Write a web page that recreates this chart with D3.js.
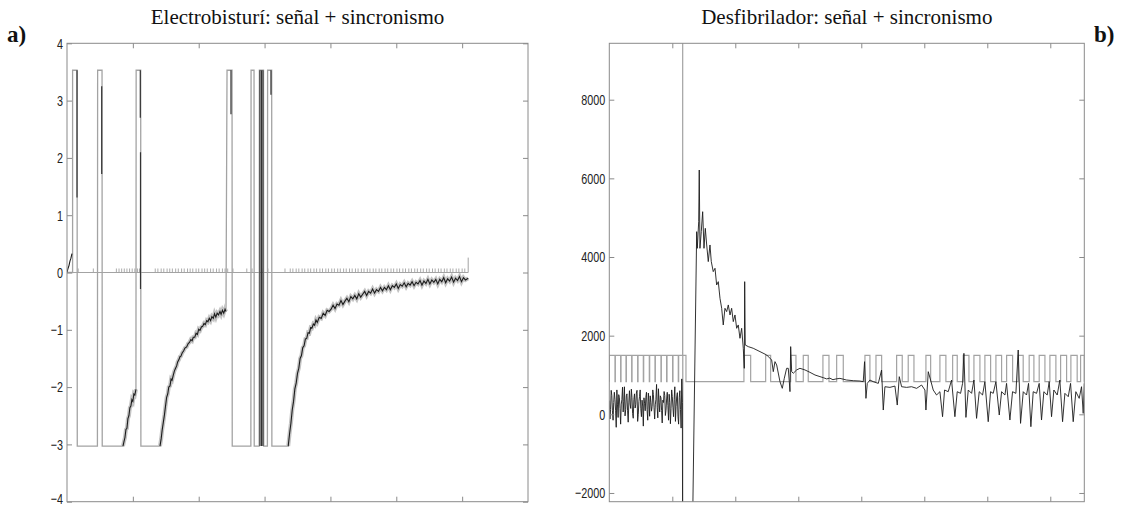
<!DOCTYPE html>
<html>
<head>
<meta charset="utf-8">
<script src="https://cdn.jsdelivr.net/npm/d3@7"></script>
<style>
  body { margin: 0; background: #fff; }
</style>
</head>
<body>
<div id="chart"></div>
<script>
// ---------------------------//
//       DATA                 //
// ---------------------------//

// panel a) Electrobisturi
var titleA = "Electrobisturí: señal + sincronismo";
var xDomA = [0, 700];
var yDomA = [-4, 4];
var xTicksA = [100, 200, 300, 400, 500, 600];
var yTicksA = [-4, -3, -2, -1, 0, 1, 2, 3, 4];

// sync: baseline at 0 with short pulses
var syncEndA = 609.2;
var syncPulseA = 0.07;
var syncLastA = 0.26;
var syncTicksA = [17, 40, 75, 79, 83, 87, 91, 95, 99, 103, 107, 110,
  134, 138, 143, 147, 152, 156, 160, 165, 169, 174, 178, 183, 187, 191, 196, 200,
  205, 209, 213, 218, 222, 227, 231, 236, 240, 244,
  252, 273, 281, 298, 305, 331,
  339, 343, 348, 352, 357, 361, 366, 370, 375, 379, 384, 388, 393, 397, 402, 406,
  411, 415, 420, 424, 429, 433, 438, 442, 447, 451, 456, 460, 465, 469, 474, 478,
  483, 487, 492, 496, 501, 505, 510, 514, 519, 523, 528, 532, 537, 541, 546, 550,
  555, 559, 564, 568, 573, 577, 582, 586, 591, 595, 600, 604];

// recovery curves of the signal after saturation
var curve1A = [[85,-3.03],[86.5,-2.95],[88,-2.88],[89.5,-2.74],[91,-2.72],[92.5,-2.55],[94,-2.5],
  [95.5,-2.36],[97,-2.33],[98.5,-2.22],[100,-2.25],[101.5,-2.12],[103,-2.14],[104.7,-2.04]];
var curve2A = [[141.2,-3.03],[143,-2.9],[144.5,-2.75],[146.2,-2.62],[148,-2.48],[149.5,-2.34],[151.3,-2.18],
  [153,-2.12],[154.5,-2.0],[156.4,-1.98],[158,-1.86],[159.5,-1.88],[161.4,-1.79],[163,-1.72],[164.5,-1.68],
  [166.5,-1.63],[168,-1.56],[170,-1.52],[171.5,-1.47],[173,-1.46],[175,-1.40],[177,-1.37],[179,-1.32],
  [181.7,-1.30],[184,-1.24],[186,-1.22],[188,-1.17],[190,-1.19],[191.7,-1.13],[194,-1.13],[196,-1.06],
  [198,-1.08],[200,-0.99],[202,-1.01],[204,-0.95],[206,-0.94],[208,-0.89],[210,-0.91],[212.1,-0.84],
  [214,-0.86],[216,-0.80],[218,-0.84],[220,-0.77],[222.1,-0.80],[224,-0.72],[226,-0.78],[228,-0.71],
  [230,-0.74],[232.3,-0.68],[234,-0.73],[236,-0.66],[238,-0.71],[240,-0.64],[241.4,-0.68]];
var curve3A = [[335.9,-3.03],[338,-2.81],[340,-2.63],[342,-2.40],[344,-2.25],[346,-2.03],[348,-1.93],
  [350,-1.76],[352,-1.67],[354,-1.50],[356,-1.45],[358,-1.31],[360,-1.28],[362,-1.16],[364,-1.15],
  [366,-1.05],[368,-1.06],[370,-0.96],[372,-0.97],[374,-0.90],[376,-0.92],[378,-0.83],[380,-0.87],
  [383,-0.78],[386,-0.80],[389,-0.71],[392,-0.75],[395,-0.66],[398,-0.68],[401,-0.64],[404,-0.57],
  [407,-0.63],[410,-0.55],[413,-0.57],[416,-0.49],[419,-0.56],[422,-0.50],[425,-0.45],[428,-0.51],
  [431,-0.42],[434,-0.46],[437,-0.40],[440,-0.46],[443,-0.37],[446,-0.43],[449,-0.38],[452,-0.33],
  [455,-0.40],[458,-0.33],[461,-0.36],[464,-0.29],[467,-0.36],[470,-0.30],[473,-0.33],[476,-0.26],
  [479,-0.32],[482,-0.26],[485,-0.30],[488,-0.23],[491,-0.30],[494,-0.23],[497,-0.26],[500,-0.20],
  [503,-0.28],[506,-0.21],[509,-0.24],[512,-0.18],[515,-0.25],[518,-0.19],[521,-0.22],[524,-0.16],
  [527,-0.23],[530,-0.17],[533,-0.20],[536,-0.14],[539,-0.22],[542,-0.15],[545,-0.19],[548,-0.12],
  [551,-0.20],[554,-0.13],[557,-0.17],[560,-0.12],[563,-0.20],[566,-0.12],[569,-0.16],[572,-0.09],
  [575,-0.18],[578,-0.11],[581,-0.15],[584,-0.08],[587,-0.17],[590,-0.10],[593,-0.14],[596,-0.07],
  [599,-0.16],[602,-0.09],[605,-0.13],[609.2,-0.10]];

// saturated pulses (gray): high / low levels and edges
var satHighA = 3.53;
var satLowA = -3.03;
var satEdgesA = [[8.5, 15.3], [46.5, 53.2], [105, 111.9], [243, 250.6], [279.5, 284.0], [292.1, 298.4], [304.6, 310.8]];

// black trace: start and vertical strokes inside pulses [x, yTop, yBottom]
var startA = [[0,0],[1.5,0.07],[3,0.12],[4.5,0.2],[6,0.25],[7.5,0.33]];
var strokesA = [[15.2,3.53,1.31],[52.7,3.25,1.72],[111.3,3.53,2.7],[111.6,2.1,-0.29],[249,3.53,2.76],
  [293,3.53,-3.03],[295.3,3.53,-3.03],[297.5,3.53,-3.03],[309.7,3.53,3.1]];

// panel b) Desfibrilador
var titleB = "Desfibrilador: señal + sincronismo";
var xDomB = [0, 754];
var yDomB = [-2222, 9434];
var xTicksB = [100, 200, 300, 400, 500, 600, 700];
var yTicksB = [-2000, 0, 2000, 4000, 6000, 8000];

var syncHighB = 1500;
var syncLowB = 830;
var syncDipsB = [9, 18, 26.5, 35.5, 45, 54, 63.5, 72.5, 82, 91, 100.5, 109.5];
var shockB = 116.5;
var syncDropB = 121.7;
var syncPulsesB = [[213.7,224.4],[248.2,256.1],[287.9,296.3],[307.9,315.8],[339.1,348.7],[360.9,371.4],
  [405.8,413.7],[423.3,432.3],[456.1,465.0],[474.5,483.6],[502.6,510.1],[524.8,534.3],[545.0,552.3],
  [561.8,570.9],[578.8,588.3],[596.2,605.3],[613.7,622.7],[630.7,640.2],[649.1,657.0],[666.5,674.0],
  [682.4,691.5],[699.4,708.9],[716.4,725.9],[732.7,742.7],[748.1,754]];

var signalB = [[0,350],[1,-120],[2,120],[3,610],[4,480],[5,90],[6,-150],[7,300],[8,560],[9,380],[10,90],
  [11,-330],[12,620],[13,240],[14,-80],[15,500],[16,420],[17,150],[18,-250],[19,260],[20,380],[21,690],
  [22,60],[23,330],[24,700],[25,-40],[26,120],[27,470],[28,520],[29,90],[30,-200],[31,310],[32,600],
  [33,260],[34,150],[35,640],[36,430],[37,20],[38,-100],[39,380],[40,520],[41,160],[42,250],[43,540],
  [44,610],[45,-180],[46,0],[47,330],[48,450],[49,620],[50,140],[51,-60],[52,360],[53,210],[54,-300],
  [55,420],[56,280],[57,90],[58,430],[59,560],[60,120],[61,-150],[62,540],[63,330],[64,-50],[65,470],
  [66,300],[67,80],[68,200],[69,620],[70,500],[71,180],[72,-120],[73,240],[74,380],[75,760],[76,180],
  [77,-90],[78,650],[79,300],[80,60],[81,470],[82,420],[83,100],[84,-220],[85,360],[86,300],[87,580],
  [88,480],[89,-30],[90,100],[91,390],[92,560],[93,230],[94,-150],[95,510],[96,300],[97,-240],[98,150],
  [99,620],[100,450],[101,180],[102,-60],[103,380],[104,700],[105,-180],[106,200],[107,440],[108,550],
  [109,-50],[110,-250],[111,420],[112,600],[113,120],[114,-350],[115,900],[116,300],[116.3,-2600],[132.4,-2600],
  [138.7,4644],[139.7,4221],[141.9,4898],[142.8,6212],[143.9,4221],[146.0,4644],[148.2,5152],[150.3,4221],
  [152.4,4729],[154.6,4306],[157.1,3883],[159.8,4306],[161.9,3883],[165.0,3628],[167.8,3713],[170.4,3289],
  [173.0,3373],[175.7,2950],[178.4,2696],[180.9,2272],[183.6,2696],[186.3,2611],[188.9,2781],[191.6,2526],
  [194.2,2696],[196.8,2357],[199.5,2526],[202.2,2187],[204.7,2272],[207.4,1933],[210.1,2187],[212.7,1679],
  [214.3,1170],[214.9,3373],[215.8,1763],[220.6,1721],[228.5,1679],[239.2,1594],[249.8,1509],[257.7,1382],
  [260.3,1085],[263.0,1339],[265.7,1255],[270.9,831],[274.6,661],[277.8,916],[281.5,1170],[284.1,1170],
  [285.7,831],[286.8,577],[287.9,1721],[289.5,1085],[292.0,1043],[297.4,1128],[302.6,1170],[310.6,1128],
  [318.5,1068],[326.5,1000],[334.4,958],[340,930],[345,900],[350,920],[355,880],[360,900],[366.1,914],
  [376.7,872],[387.3,855],[397.8,846],[403.1,830],[405.2,1338],[407.4,406],[409.5,787],[413.7,872],
  [419.0,830],[427.0,787],[432.2,1126],[434.9,109],[437.5,702],[445.5,685],[453.4,719],[457.1,236],
  [460.3,957],[464.0,702],[471.9,685],[479.8,702],[487.8,660],[495.7,745],[501.0,618],[502.6,109],
  [506.3,1084],[510.0,872],[514.2,618],[519.5,491],[524.8,575],[529.0,-61],[532.2,618],[538.0,575],
  [543.3,872],[548.6,-61],[552.3,575],[557.6,533],[560.8,787],[562.9,1550],[566.1,-78],[569.8,618],
  [575.1,533],[578.8,872],[583.0,-103],[587.2,575],[592.5,491],[596.2,830],[601.5,-188],[605.2,575],
  [609.4,533],[613.7,830],[619.0,-18],[622.7,575],[628.0,491],[630.6,787],[635.9,-145],[640.1,575],
  [645.4,533],[649.1,1635],[652.8,-230],[657.1,575],[662.3,491],[665.5,787],[669.2,-315],[672.9,575],
  [678.2,533],[682.4,787],[686.1,-145],[689.8,575],[695.1,491],[698.3,830],[702.0,-61],[705.7,618],
  [711.0,491],[715.2,872],[719.5,-188],[723.2,533],[728.5,448],[732.2,787],[736.4,-188],[740.6,575],
  [745.9,406],[749.6,702],[752.3,24],[754,787]];

// ---------------------------//
//       LAYOUT               //
// ---------------------------//
var W = 1131, H = 506;
var gray = "#a3a3a3", halo = "#c4c4c4", frameColor = "#8a8a8a", ink = "#1c1c1c";
var boxA = {left: 67, top: 43.3, width: 461, height: 458.4};
var boxB = {left: 609.3, top: 43.3, width: 475, height: 458.4};

var svg = d3.select("#chart")
  .append("svg")
  .attr("width", W)
  .attr("height", H);

function panel(id, box, xDom, yDom, xTicks, yTicks, title) {
  var x = d3.scaleLinear().domain(xDom).range([0, box.width]);
  var y = d3.scaleLinear().domain(yDom).range([box.height, 0]);
  var g = svg.append("g").attr("transform", "translate(" + box.left + "," + box.top + ")");

  svg.append("defs").append("clipPath").attr("id", id)
    .append("rect").attr("width", box.width).attr("height", box.height);

  var plot = g.append("g").attr("clip-path", "url(#" + id + ")");

  // inward ticks on all four sides, narrow tick labels
  var sq = 0.72;
  g.append("g")
    .call(d3.axisLeft(y).tickValues(yTicks).tickFormat(d3.format("d"))
      .tickSizeInner(-5).tickSizeOuter(0).tickPadding(4))
    .call(function(a) {
      a.select(".domain").remove();
      a.selectAll("text")
        .attr("x", -4 / sq)
        .attr("transform", "scale(" + sq + ",1)")
        .attr("dy", function(d) { return d === yDom[0] || d === yTicks[0] && y(d) > box.height - 4 ? "0.1em" : "0.32em"; })
        .style("font-family", "'Liberation Sans', Arial, sans-serif")
        .style("font-size", "15px")
        .attr("fill", "#222");
    });
  g.append("g").attr("transform", "translate(" + box.width + ",0)")
    .call(d3.axisRight(y).tickValues(yTicks).tickSizeInner(-5).tickSizeOuter(0).tickFormat(""))
    .call(function(a) { a.select(".domain").remove(); });
  g.append("g")
    .call(d3.axisTop(x).tickValues(xTicks).tickSizeInner(-5).tickSizeOuter(0).tickFormat(""))
    .call(function(a) { a.select(".domain").remove(); });
  g.append("g").attr("transform", "translate(0," + box.height + ")")
    .call(d3.axisBottom(x).tickValues(xTicks).tickSizeInner(-5).tickSizeOuter(0).tickFormat(""))
    .call(function(a) { a.select(".domain").remove(); });
  g.selectAll(".tick line").attr("stroke", frameColor);

  g.append("rect")
    .attr("width", box.width).attr("height", box.height)
    .attr("fill", "none").attr("stroke", frameColor).attr("stroke-width", 1);

  svg.append("text")
    .attr("x", box.left + box.width / 2)
    .attr("y", 24)
    .attr("text-anchor", "middle")
    .style("font-family", "'Liberation Serif', 'Times New Roman', serif")
    .style("font-size", "21px")
    .attr("fill", "#111")
    .text(title);

  var line = d3.line().x(function(d) { return x(d[0]); }).y(function(d) { return y(d[1]); });
  return {plot: plot, x: x, y: y, line: line};
}

// ---------------------------//
//       PANEL A              //
// ---------------------------//
var A = panel("clipA", boxA, xDomA, yDomA, xTicksA, yTicksA, titleA);

// gray saturated trace, joined through the recovery curves
var grayA = [[0, 0], [satEdgesA[0][0], 0]];
var curvesA = {2: curve1A, 3: curve2A, 7: curve3A};
satEdgesA.forEach(function(e, i) {
  if (curvesA[i]) curvesA[i].forEach(function(p) { grayA.push(p); });
  grayA.push([e[0], satHighA], [e[1], satHighA], [e[1] + 0.3, satLowA]);
  if (i < satEdgesA.length - 1 && !curvesA[i + 1]) grayA.push([satEdgesA[i + 1][0] - 0.3, satLowA]);
});
curve3A.forEach(function(p) { grayA.push(p); });

A.plot.append("path").datum(grayA)
  .attr("d", A.line).attr("fill", "none").attr("stroke", gray).attr("stroke-width", 1.3);

// light halo around the noisy recovery curves
[curve1A, curve2A, curve3A].forEach(function(c) {
  A.plot.append("path").datum(c)
    .attr("d", A.line).attr("fill", "none").attr("stroke", halo).attr("stroke-width", 4);
});

// sync baseline and pulses
A.plot.append("path").datum([[0, 0], [syncEndA, 0]])
  .attr("d", A.line).attr("fill", "none").attr("stroke", gray).attr("stroke-width", 1);
A.plot.selectAll(".syncA").data(syncTicksA).enter().append("line")
  .attr("x1", function(d) { return A.x(d); }).attr("x2", function(d) { return A.x(d); })
  .attr("y1", A.y(0)).attr("y2", A.y(syncPulseA))
  .attr("stroke", gray).attr("stroke-width", 0.9);
A.plot.append("line")
  .attr("x1", A.x(syncEndA)).attr("x2", A.x(syncEndA))
  .attr("y1", A.y(0)).attr("y2", A.y(syncLastA))
  .attr("stroke", gray).attr("stroke-width", 1);

// black signal
[startA, curve1A, curve2A, curve3A].forEach(function(c) {
  A.plot.append("path").datum(c)
    .attr("d", A.line).attr("fill", "none").attr("stroke", ink).attr("stroke-width", 1.1);
});
A.plot.selectAll(".strokeA").data(strokesA).enter().append("line")
  .attr("x1", function(d) { return A.x(d[0]); }).attr("x2", function(d) { return A.x(d[0]); })
  .attr("y1", function(d) { return A.y(d[1]); }).attr("y2", function(d) { return A.y(d[2]); })
  .attr("stroke", "#333").attr("stroke-width", 1.2);

// ---------------------------//
//       PANEL B              //
// ---------------------------//
var B = panel("clipB", boxB, xDomB, yDomB, xTicksB, yTicksB, titleB);

var syncB = [[0, syncLowB], [0, syncHighB]];
syncDipsB.forEach(function(d) {
  syncB.push([d, syncHighB], [d, syncLowB], [d + 0.6, syncLowB], [d + 0.6, syncHighB]);
});
syncB.push([shockB - 0.1, syncHighB], [shockB, yDomB[1] + 500], [shockB + 0.1, yDomB[0] - 500],
  [shockB + 0.2, syncHighB], [syncDropB, syncHighB], [syncDropB, syncLowB]);
syncPulsesB.forEach(function(p) {
  syncB.push([p[0], syncLowB], [p[0], syncHighB], [p[1], syncHighB], [p[1], syncLowB]);
});

B.plot.append("path").datum(syncB)
  .attr("d", B.line).attr("fill", "none").attr("stroke", gray).attr("stroke-width", 1.2);
B.plot.append("path").datum(signalB)
  .attr("d", B.line).attr("fill", "none").attr("stroke", ink).attr("stroke-width", 0.9);

// panel letters
svg.append("text").attr("x", 7).attr("y", 42)
  .style("font-family", "'Liberation Serif', 'Times New Roman', serif")
  .style("font-size", "23px").style("font-weight", "bold").attr("fill", "#111")
  .text("a)");
svg.append("text").attr("x", 1094).attr("y", 42)
  .style("font-family", "'Liberation Serif', 'Times New Roman', serif")
  .style("font-size", "23px").style("font-weight", "bold").attr("fill", "#111")
  .text("b)");
</script>
</body>
</html>
